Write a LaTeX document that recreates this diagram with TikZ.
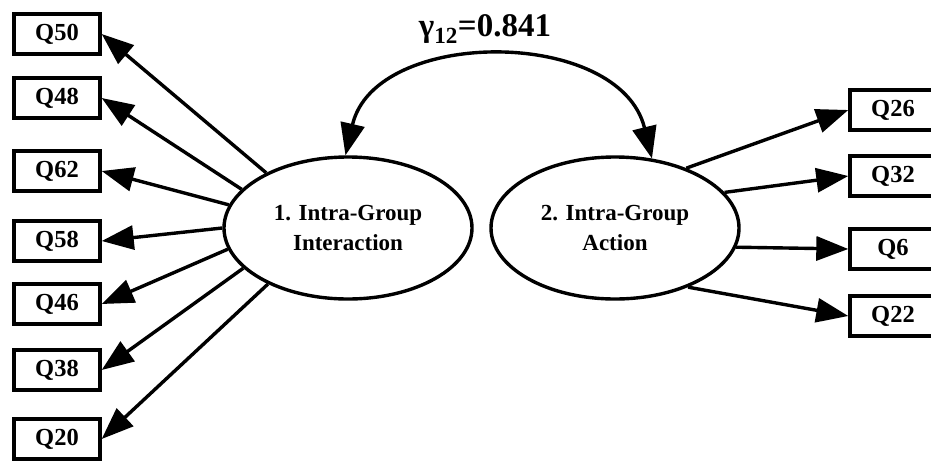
\documentclass[tikz,border=0pt]{standalone}
\usepackage{fontspec}
\setmainfont{Liberation Serif}
\usetikzlibrary{arrows.meta,shapes.geometric}
\begin{document}
\begin{tikzpicture}[x=1pt,y=-1pt,
  item/.style={draw,line width=3.4pt,minimum width=86pt,minimum height=40pt,inner sep=0pt,
    font=\fontsize{24.5}{26}\selectfont\bfseries},
  factor/.style={draw,ellipse,line width=3.4pt,minimum width=248pt,minimum height=142pt,
    inner sep=0pt,align=center,font=\fontsize{23}{30}\selectfont\bfseries},
  tip/.style={Triangle[length=32pt,width=24pt]},
  load/.style={line width=3.4pt,-{Triangle[length=32pt,width=24pt]}},
  corr/.style={line width=3.4pt,{Triangle[length=32pt,width=24pt]}-{Triangle[length=32pt,width=24pt]}},
]
\useasboundingbox (0,0) rectangle (931,461);

% latent factors
\node[factor] (e1) at (348,228) {1. Intra-Group\\Interaction};
\node[factor] (e2) at (615,228) {2. Intra-Group\\Action};

% indicators of factor 1
\node[item] (q50) at (57,34)  {Q50};
\node[item] (q48) at (57,98)  {Q48};
\node[item] (q62) at (57,171) {Q62};
\node[item] (q58) at (57,241) {Q58};
\node[item] (q46) at (57,304) {Q46};
\node[item] (q38) at (57,370) {Q38};
\node[item] (q20) at (57,439) {Q20};

% indicators of factor 2
\node[item] (q26) at (893,110) {Q26};
\node[item] (q32) at (893,176) {Q32};
\node[item] (q6)  at (893,249) {Q6};
\node[item] (q22) at (893,316) {Q22};

% loadings
\draw[load] (e1.146) -- (q50.east);
\draw[load] (e1.160) -- (q48.east);
\draw[load] (e1.169) -- (q62.east);
\draw[load] (e1.180) -- (q58.east);
\draw[load] (e1.190) -- (q46.east);
\draw[load] (e1.201) -- (q38.east);
\draw[load] (e1.215) -- (q20.east);

\draw[load] (e2.40)  -- (q26.west);
\draw[load] (e2.18)  -- (q32.west);
\draw[load] (e2.-9)  -- (q6.west);
\draw[load] (e2.-39) -- (q22.west);

% factor correlation
\draw[corr] (e1.92) .. controls (375,27) and (620,27) .. (e2.62);
\node[font=\fontsize{33}{34}\selectfont\bfseries] (gamma) at (485,29)
  {γ\textsubscript{12}=0.841};
\end{tikzpicture}
\end{document}
